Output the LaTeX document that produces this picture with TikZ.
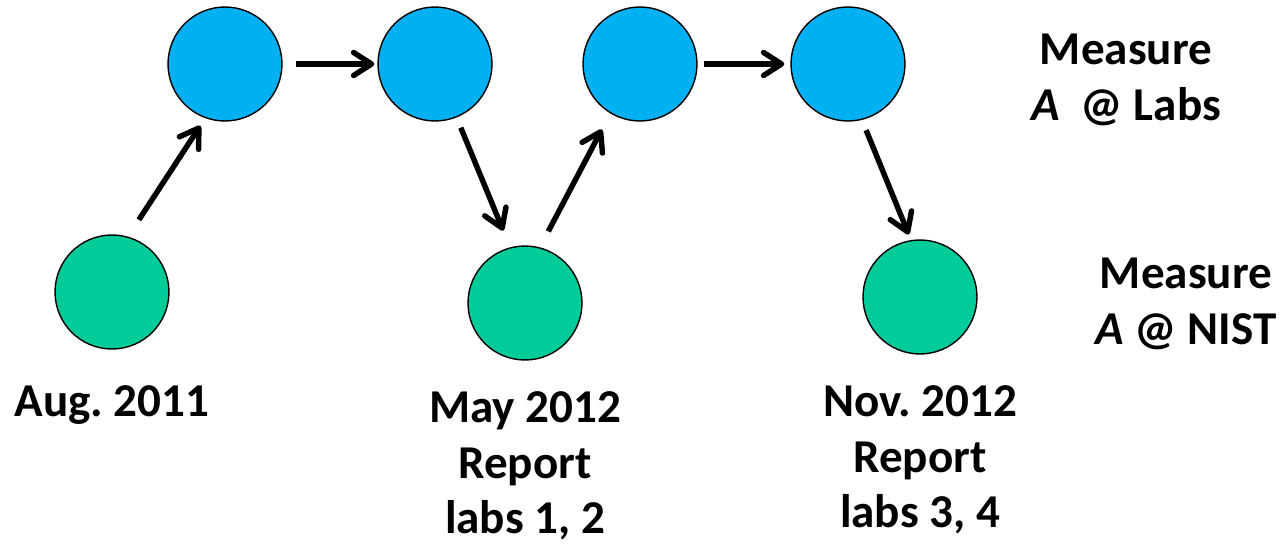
\documentclass[tikz,border=0pt]{standalone}
\usepackage{fontspec}
\setmainfont{Carlito}
\usepackage{tikz}
\usetikzlibrary{arrows.meta}
\frenchspacing

\definecolor{labblue}{HTML}{00B0F0}
\definecolor{nistgreen}{HTML}{00CC99}

\tikzset{
	dot/.style={circle,draw=black,line width=0.8pt,minimum size=2.28cm,inner sep=0pt},
	labdot/.style={dot,fill=labblue},
	nistdot/.style={dot,fill=nistgreen},
	flow/.style={line width=3.1pt,-{Straight Barb[length=3.6mm,width=4.6mm,round]}},
	caption/.style={align=center,font=\fontsize{26.8}{31.7}\selectfont\bfseries}
}

\begin{document}
\begin{tikzpicture}[x=0.02cm,y=-0.02cm]
	\useasboundingbox (0,0) rectangle (1282,544);
	
	%CIRCLES
	\node[labdot] (b1) at (225,64) {};	%labs, first round
	\node[labdot] (b2) at (435,64) {};
	\node[labdot] (b3) at (640,64) {};	%labs, second round
	\node[labdot] (b4) at (848,64) {};
	%
	\node[nistdot] (g1) at (112,292) {};	%nist
	\node[nistdot] (g2) at (525,303) {};
	\node[nistdot] (g3) at (920,297) {};
	
	%ARROWS
	\draw[flow,shorten <=4mm,shorten >=1.8mm] (g1.74)--(b1.250);
	\draw[flow,shorten <=2.6mm,shorten >=0.6mm] (b1.east)--(b2.west);
	\draw[flow,shorten <=2.2mm,shorten >=3.6mm] (b2.292)--(g2.105);
	\draw[flow,shorten <=3.6mm,shorten >=3.6mm] (g2.75)--(b3.239);
	\draw[flow,shorten <=1.2mm,shorten >=1.2mm] (b3.east)--(b4.west);
	\draw[flow,shorten <=2.2mm,shorten >=1.2mm] (b4.284)--(g3.99);
	
	%LABELS
	\node[caption] (aug) at (112,405) {Aug. 2011};
	\node[caption] (may) at (525,466) {May 2012\\Report\\labs 1, 2};
	\node[caption] (nov) at (920,460) {Nov. 2012\\Report\\labs 3, 4};
	%
	\node[caption] (labs) at (1126,80) {Measure\\\textit{A}\ \ @ Labs};
	\node[caption] (nist) at (1186,304) {Measure\\\textit{A} @ NIST};
	
	%\draw[help lines] (0,0) grid (1282,544);
\end{tikzpicture}
\end{document}
